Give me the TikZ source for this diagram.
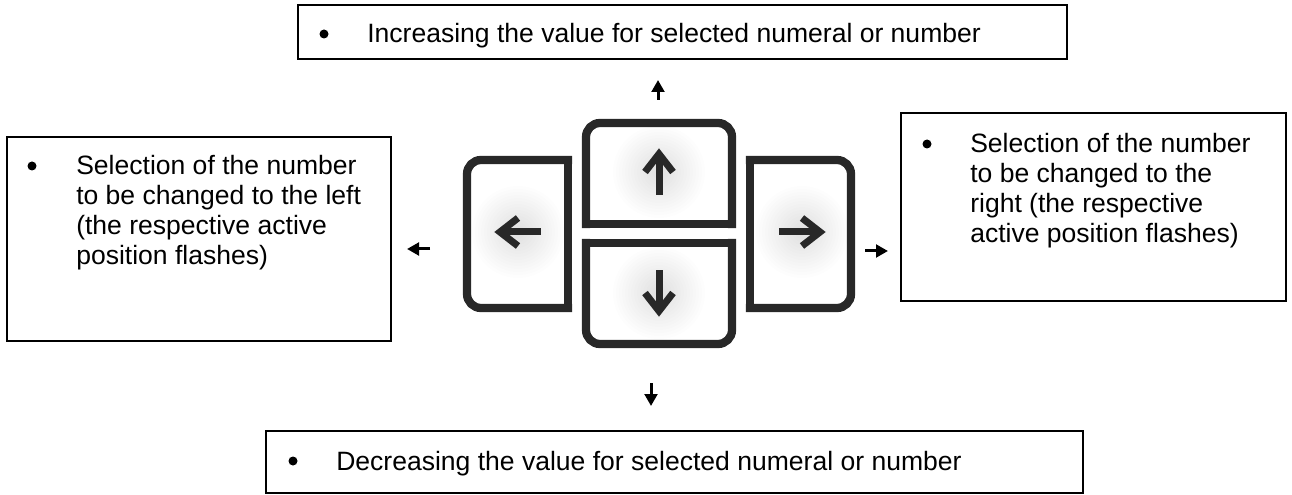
\documentclass[tikz,border=0pt]{standalone}
\usepackage{fontspec}
\setmainfont{Liberation Sans}
\usetikzlibrary{arrows.meta,fit}
\definecolor{keycol}{RGB}{40,40,40}
\newcommand\drawkeyarrow[2]{%
  \begin{scope}[shift={#1}, rotate=#2]
    \draw[keyarrow, line join=miter] (-14,0) -- (0,-18) -- (14,0);
    \draw[keyarrow] (0,-16) -- (0,23);
  \end{scope}}
\newcommand\keyglow[2]{%
  \begin{scope}
    \clip #1;
    \fill[white] #1;
    \foreach \r in {46,43,...,4} {\fill[black, opacity=0.007] #2 circle (\r);}
  \end{scope}}
\begin{document}
\begin{tikzpicture}[x=0.75pt,y=-0.75pt,
  box/.style={draw=black, line width=1.5pt, inner sep=0pt},
  txt/.style={inner sep=0pt, font=\fontsize{19.9pt}{22.5pt}\selectfont, text=black},
  bul/.style={circle, fill=black, inner sep=0pt, minimum size=6.75pt},
  keyline/.style={draw=keycol, line width=6.2pt, line cap=rect},
  keyarrow/.style={draw=keycol, line width=5.25pt},
  ptr/.style={draw=black, line width=2.25pt, -{Triangle[width=9.5pt,length=9pt]}}
]
\useasboundingbox (0,0) rectangle (1292,495);

% ---------- text boxes ----------
\node[box, fit={(298,5) (1067,59)}] (topbox) {};
\node[bul] (topbul) at (324,34) {};
\node[txt, anchor=base west] (toptext) at (367,43) {Increasing the value for selected numeral or number};

\node[box, fit={(266,431) (1083,493)}] (botbox) {};
\node[bul] (botbul) at (293,461) {};
\node[txt, anchor=base west] (bottext) at (336,470) {Decreasing the value for selected numeral or number};

\node[box, fit={(7,137) (391,341)}] (leftbox) {};
\node[bul] (leftbul) at (32,166) {};
\node[txt, anchor=base west] (lefttext) at (76,175) {\begin{tabular}[t]{@{}l@{}}Selection of the number\\to be changed to the left\\(the respective active\\position flashes)\end{tabular}};

\node[box, fit={(901,113) (1286,301)}] (rightbox) {};
\node[bul] (rightbul) at (927,144) {};
\node[txt, anchor=base west] (righttext) at (970,153) {\begin{tabular}[t]{@{}l@{}}Selection of the number\\to be changed to the\\right (the respective\\active position flashes)\end{tabular}};

% ---------- keys ----------
\keyglow{(471,164) rectangle (564,304)}{(518,232)}
\keyglow{(590,127) rectangle (728,220)}{(659,172)}
\keyglow{(590,247) rectangle (728,340)}{(659,293)}
\keyglow{(754,164) rectangle (847,304)}{(802,232)}

% left key
\draw[keyline, rounded corners=10.5pt] (568,160) -- (467,160) -- (467,308) -- (568,308);
\draw[keyline] (568,160) -- (568,308);
% up key
\draw[keyline, rounded corners=10.5pt] (586,224) -- (586,123) -- (732,123) -- (732,224);
\draw[keyline] (586,224) -- (732,224);
% down key
\draw[keyline, rounded corners=10.5pt] (586,243) -- (586,344) -- (732,344) -- (732,243);
\draw[keyline] (586,243) -- (732,243);
% right key
\draw[keyline, rounded corners=10.5pt] (750,160) -- (851,160) -- (851,308) -- (750,308);
\draw[keyline] (750,160) -- (750,308);

\drawkeyarrow{(659,172)}{0}
\drawkeyarrow{(659,293)}{180}
\drawkeyarrow{(518,232)}{90}
\drawkeyarrow{(802,232)}{-90}

% ---------- small pointers ----------
\coordinate (upS) at (658,100);  \coordinate (upT) at (658,80);
\coordinate (dnS) at (651,383);  \coordinate (dnT) at (651,406);
\coordinate (lfS) at (430,249);  \coordinate (lfT) at (407,249);
\coordinate (rtS) at (865,251);  \coordinate (rtT) at (888,251);
\draw[ptr] (upS) -- (upT);
\draw[ptr] (dnS) -- (dnT);
\draw[ptr] (lfS) -- (lfT);
\draw[ptr] (rtS) -- (rtT);
\end{tikzpicture}
\end{document}
